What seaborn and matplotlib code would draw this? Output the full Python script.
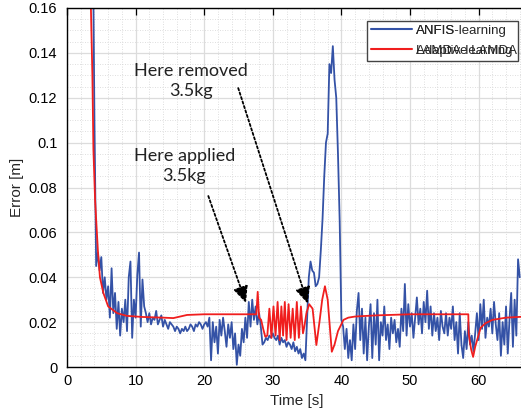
import numpy as np
import pandas as pd
import seaborn as sns
import matplotlib.pyplot as plt
from matplotlib.ticker import MultipleLocator
from matplotlib.lines import Line2D

# ANFIS-learning error, sampled every 0.25 s starting at 3.75 s
ANFIS_T0 = 3.75
ANFIS_DT = 0.25
anfis_err = [
    0.20, 0.11, 0.045, 0.051, 0.043, 0.049, 0.033, 0.040,
    0.030, 0.036, 0.022, 0.044, 0.024, 0.033, 0.017, 0.029,
    0.014, 0.026, 0.020, 0.030, 0.016, 0.040, 0.047, 0.013,
    0.030, 0.022, 0.041, 0.051, 0.018, 0.039, 0.027, 0.024,
    0.020, 0.024, 0.019, 0.022, 0.021, 0.025, 0.019, 0.021,
    0.023, 0.018, 0.021, 0.019, 0.017, 0.020, 0.019, 0.018,
    0.016, 0.018, 0.017, 0.015, 0.017, 0.016, 0.018, 0.016,
    0.017, 0.019, 0.018, 0.016, 0.019, 0.018, 0.020, 0.019,
    0.017, 0.019, 0.020, 0.018, 0.022, 0.003, 0.020, 0.011,
    0.018, 0.006, 0.021, 0.014, 0.022, 0.016, 0.009, 0.019,
    0.013, 0.020, 0.008, 0.015, 0.001, 0.010, 0.005, 0.017,
    0.011, 0.022, 0.013, 0.029, 0.018, 0.030, 0.021, 0.027,
    0.019, 0.024, 0.018, 0.010, 0.011, 0.013, 0.012, 0.014,
    0.013, 0.015, 0.013, 0.012, 0.014, 0.010, 0.013, 0.011,
    0.012, 0.009, 0.011, 0.010, 0.008, 0.011, 0.007, 0.009,
    0.006, 0.008, 0.004, 0.006, 0.003, 0.022, 0.040, 0.047,
    0.043, 0.042, 0.036, 0.037, 0.040, 0.052, 0.066, 0.085,
    0.100, 0.104, 0.135, 0.131, 0.143, 0.128, 0.120, 0.095,
    0.065, 0.021, 0.018, 0.008, 0.017, 0.004, 0.012, 0.003,
    0.019, 0.008, 0.025, 0.033, 0.012, 0.026, 0.006, 0.022,
    0.003, 0.018, 0.028, 0.004, 0.024, 0.010, 0.030, 0.003,
    0.020, 0.014, 0.027, 0.012, 0.019, 0.008, 0.022, 0.015,
    0.021, 0.011, 0.017, 0.009, 0.026, 0.016, 0.037, 0.014,
    0.028, 0.018, 0.024, 0.013, 0.022, 0.031, 0.019, 0.026,
    0.015, 0.029, 0.020, 0.034, 0.017, 0.027, 0.014, 0.024,
    0.016, 0.022, 0.012, 0.025, 0.018, 0.015, 0.024, 0.014,
    0.022, 0.017, 0.027, 0.012, 0.020, 0.006, 0.024, 0.010,
    0.004, 0.016, 0.008, 0.020, 0.010, 0.014, 0.007, 0.015,
    0.024, 0.012, 0.028, 0.017, 0.030, 0.013, 0.022, 0.018,
    0.026, 0.015, 0.029, 0.019, 0.012, 0.024, 0.005, 0.020,
    0.010, 0.027, 0.006, 0.021, 0.033, 0.009, 0.030, 0.014,
    0.048, 0.040,
]

# LAMDA-learning error (time, value)
lamda_t = [
    3.45, 3.7, 3.85, 4.1, 4.5, 4.8, 5.3, 6.0, 7.3, 8.7, 11.0, 14.0, 15.5,
    17.5, 20.0, 24.0, 27.6, 27.8, 28.0, 28.3, 28.6, 28.9, 29.2, 29.5, 29.8,
    30.1, 30.4, 30.7, 31.0, 31.25, 31.5, 31.75, 32.0, 32.3, 32.6, 32.9,
    33.2, 33.5, 33.8, 34.1, 34.4, 34.6, 34.9, 35.3, 35.8, 36.35, 36.8, 37.2,
    37.6, 38.0, 38.6, 39.0, 39.5, 40.3, 41.0, 42.0, 45.0, 50.0, 58.5, 58.55,
    58.9, 59.2, 59.5, 60.3, 61.0, 62.0, 64.0, 67.0,
]
lamda_err = [
    0.165, 0.13, 0.097, 0.074, 0.052, 0.040, 0.033, 0.027, 0.024, 0.0228,
    0.0223, 0.022, 0.0218, 0.0232, 0.0235, 0.0235, 0.0235, 0.0335, 0.022,
    0.021, 0.017, 0.0135, 0.014, 0.026, 0.013, 0.027, 0.014, 0.029, 0.012,
    0.027, 0.014, 0.029, 0.012, 0.028, 0.013, 0.026, 0.012, 0.029, 0.013,
    0.027, 0.015, 0.018, 0.024, 0.028, 0.026, 0.0098, 0.020, 0.030, 0.036,
    0.030, 0.0068, 0.010, 0.016, 0.021, 0.022, 0.0225, 0.023, 0.0235,
    0.0235, 0.015, 0.008, 0.0045, 0.009, 0.0175, 0.0195, 0.021, 0.022,
    0.0225,
]

x_ticks = [0, 10, 20, 30, 40, 50, 60]
y_ticks = [0, 0.02, 0.04, 0.06, 0.08, 0.1, 0.12, 0.14, 0.16]
y_tick_labels = ['0', '0.02', '0.04', '0.06', '0.08', '0.1', '0.12', '0.14', '0.16']

BLUE = '#3452a6'
RED = '#f01e1e'

anfis = pd.DataFrame({'t': ANFIS_T0 + ANFIS_DT * np.arange(len(anfis_err)),
                      'err': anfis_err})
lamda = pd.DataFrame({'t': lamda_t, 'err': lamda_err})

sns.set_style('white')
plt.rcParams['font.family'] = ['Liberation Sans', 'DejaVu Sans']

fig = plt.figure(figsize=(5.21, 4.12), dpi=100)
# the right edge of the axes runs just past the figure, as in the source image
ax = fig.add_axes([0.1286, 0.1092, 0.8822, 0.8714])

sns.lineplot(data=anfis, x='t', y='err', ax=ax, color=BLUE, linewidth=1.3)
sns.lineplot(data=lamda, x='t', y='err', ax=ax, color=RED, linewidth=1.3)

ax.set_xlim(0, 67)
ax.set_ylim(0, 0.16)
ax.set_xticks(x_ticks)
ax.set_yticks(y_ticks)
ax.set_yticklabels(y_tick_labels)
ax.xaxis.set_minor_locator(MultipleLocator(2))
ax.yaxis.set_minor_locator(MultipleLocator(0.005))
ax.grid(which='major', color='#dcdcdc', linewidth=0.9)
ax.grid(which='minor', color='#d4d4d4', linewidth=0.6, linestyle=(0, (1, 2)))
ax.set_axisbelow(True)
ax.tick_params(axis='x', which='major', direction='in', length=5, width=0.9,
               top=True, labelsize=10.5, colors='black', pad=5)
ax.tick_params(axis='y', which='major', direction='out', length=5, width=0.9,
               labelsize=10.5, colors='black', pad=2)
ax.tick_params(which='minor', length=0)
for s in ax.spines.values():
    s.set_color('black')
    s.set_linewidth(1.0)

ax.set_xlabel('Time [s]', fontsize=11, labelpad=4)
ax.set_ylabel('Error [m]', fontsize=11, labelpad=3)

# annotations
note_font = dict(family=['Lato', 'DejaVu Sans'], fontsize=13, color='#222222',
                 ha='center', va='center', linespacing=1.3)
ax.text(18.1, 0.1274, 'Here removed\n3.5kg', **note_font)
ax.text(17.1, 0.0896, 'Here applied\n3.5kg', **note_font)
arrow = dict(arrowstyle='-|>,head_length=1.0,head_width=0.45', color='black',
             lw=1.3, linestyle=(0, (1.3, 1.3)), shrinkA=0, shrinkB=0,
             mutation_scale=10)
ax.annotate('', xy=(35.1, 0.0282), xytext=(24.96, 0.1243), arrowprops=arrow)
ax.annotate('', xy=(26.1, 0.0285), xytext=(20.6, 0.0762), arrowprops=arrow)

# legend (the labels in the source overlap two label sets)
handles = [Line2D([], [], color=BLUE, lw=1.5), Line2D([], [], color=RED, lw=1.5)]
leg_kw = dict(loc='upper left', bbox_to_anchor=(0.6535, 0.9646), borderaxespad=0,
              fontsize=9.5, handlelength=3.1, handletextpad=0.3, borderpad=0.3,
              labelspacing=0.6, fancybox=False)
leg1 = ax.legend(handles, ['ANFIS-learning', 'LAMDA-learning'], edgecolor='#444444',
                 framealpha=1, **leg_kw)
ax.add_artist(leg1)
ghost = [Line2D([], [], color='none'), Line2D([], [], color='none')]
ax.legend(ghost, ['ANFIS', 'Adaptive LAMDA'], frameon=False, **leg_kw)

fig.savefig('out.png', dpi=100)
